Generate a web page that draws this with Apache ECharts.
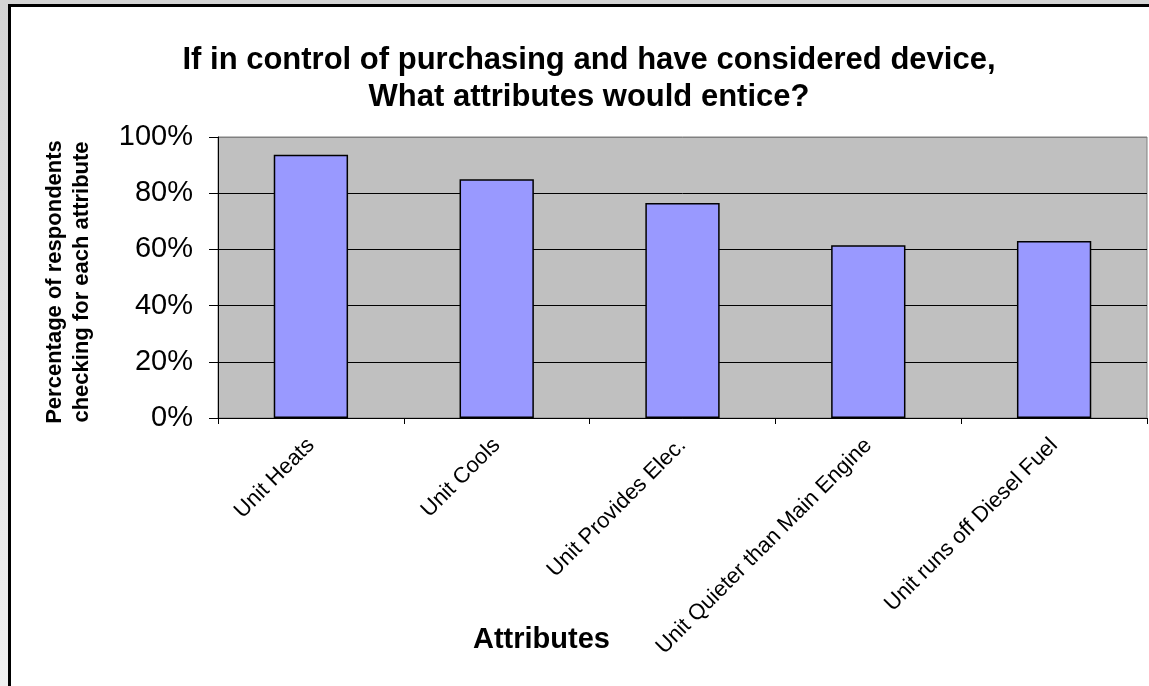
<!DOCTYPE html>
<html>
<head>
<meta charset="utf-8">
<script src="https://cdn.jsdelivr.net/npm/echarts@6/dist/echarts.min.js"></script>
<style>
html,body{margin:0;padding:0;background:#dcdcdc;}
#c{width:1149px;height:686px;}
</style>
</head>
<body>
<div id="c"></div>
<script>
const categories = ["Unit Heats", "Unit Cools", "Unit Provides Elec.", "Unit Quieter than Main Engine", "Unit runs off Diesel Fuel"];
const values = [0.937, 0.850, 0.765, 0.615, 0.630];
const yTicks = [0, 0.2, 0.4, 0.6, 0.8, 1.0];

const chart = echarts.init(document.getElementById('c'), null, {renderer: 'canvas'});
const F = '"Liberation Sans", Arial, sans-serif';
chart.setOption({
  backgroundColor: {
    type: 'linear', x: 0, y: 0, x2: 0, y2: 1,
    colorStops: [{offset: 0, color: '#d4d4d4'}, {offset: 1, color: '#f0f0f0'}]
  },
  animation: false,
  graphic: [{
    type: 'rect', z: -10,
    shape: {x: 9.5, y: 5.5, width: 1150, height: 700},
    style: {fill: '#ffffff', stroke: '#000000', lineWidth: 3}
  }, {
    type: 'text', x: 589, y: 42,
    style: {text: 'If in control of purchasing and have considered device,\nWhat attributes would entice?',
      font: 'bold 31px ' + F, fill: '#000', align: 'center', lineHeight: 37}
  }, {
    type: 'text', x: 473, y: 625,
    style: {text: 'Attributes', font: 'bold 29px ' + F, fill: '#000'}
  }, {
    type: 'text', x: 68, y: 282, rotation: Math.PI / 2,
    style: {text: 'Percentage of respondents\nchecking for each attribute', font: 'bold 22px ' + F,
      fill: '#000', align: 'center', verticalAlign: 'middle', lineHeight: 27}
  }],
  grid: {left: 218, top: 137, right: 2, bottom: 268, show: true,
    backgroundColor: '#c0c0c0', borderColor: '#808080', borderWidth: 1},
  xAxis: {
    type: 'category', data: categories, boundaryGap: true,
    axisLine: {show: true, lineStyle: {color: '#000', width: 1}},
    axisTick: {show: true, length: 6, alignWithLabel: false, lineStyle: {color: '#000'}},
    axisLabel: {interval: 0, rotate: 45, fontSize: 22, fontFamily: F, color: '#000', margin: 24}
  },
  yAxis: {
    type: 'value', min: 0, max: 1, interval: 0.2,
    axisLine: {show: true, lineStyle: {color: '#000', width: 1}},
    axisTick: {show: true, length: 9, inside: false, lineStyle: {color: '#000'}},
    axisLabel: {fontSize: 29, fontFamily: F, color: '#000', margin: 25,
      formatter: v => Math.round(v * 100) + '%'},
    splitLine: {show: true, lineStyle: {color: ['#000', '#000', '#000', '#000', '#000', '#808080'], width: 1}}
  },
  series: [{
    type: 'bar', data: values, barCategoryGap: '60%',
    itemStyle: {color: '#9999ff', borderColor: '#000', borderWidth: 1.5}
  }]
});
</script>
</body>
</html>
